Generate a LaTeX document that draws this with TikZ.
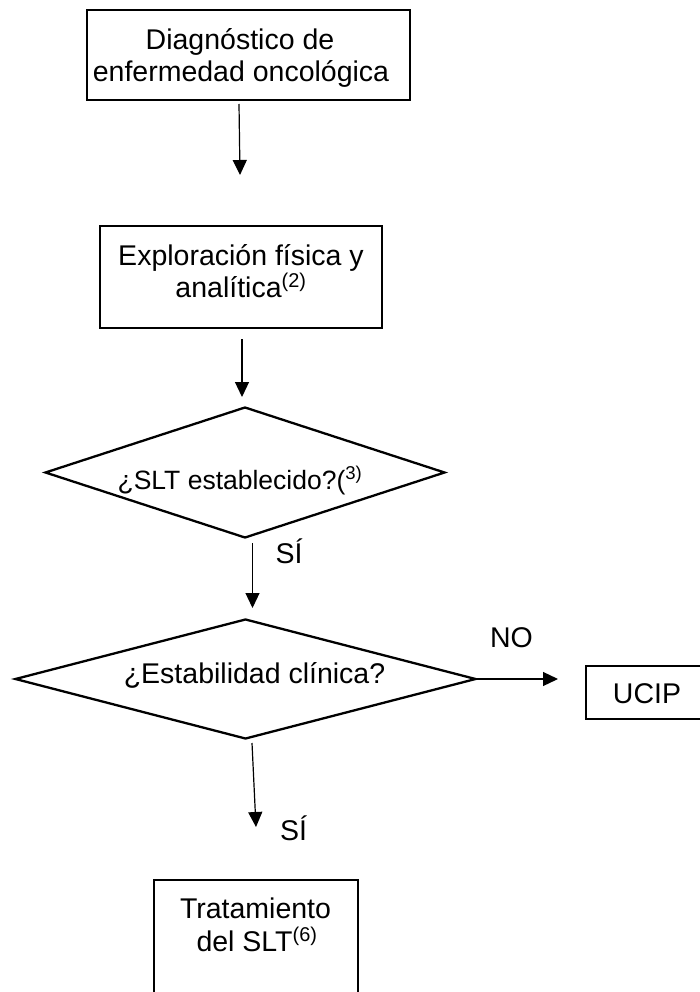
\documentclass[tikz,border=0pt]{standalone}
\usepackage{fontspec}
\setmainfont{Liberation Sans}
\usetikzlibrary{shapes.geometric,arrows.meta}
\begin{document}
\begin{tikzpicture}[x=1pt,y=-1pt,
  boxnode/.style={draw,line width=2pt,rectangle,inner sep=0pt},
  dianode/.style={draw,line width=2.3pt,diamond,inner sep=0pt},
  txt/.style={anchor=base,inner sep=0pt,font=\fontsize{28.5}{32.5}\selectfont},
  txtsmall/.style={anchor=base,inner sep=0pt,font=\fontsize{26.5}{30}\selectfont},
  arr/.style={line width=1.2pt,-{Triangle[length=15pt,width=14pt]}}]
\useasboundingbox (0,0) rectangle (699,992);
% boxes
\node[boxnode,minimum width=323pt,minimum height=90pt] (b1) at (248.5,55) {};
\node[boxnode,minimum width=282pt,minimum height=102pt] (b2) at (241,277) {};
\node[dianode,minimum width=400pt,minimum height=131pt,aspect=3.05] (d1) at (245,472.5) {};
\node[dianode,minimum width=461pt,minimum height=120pt,aspect=3.84] (d2) at (245.5,679) {};
\node[boxnode,minimum width=116pt,minimum height=53pt] (u) at (644,692.5) {};
\node[boxnode,minimum width=204pt,minimum height=115pt] (b3) at (256,937.5) {};
% texts
\node[txt] (t1a) at (240,50) {Diagnóstico de};
\node[txt] (t1b) at (241,82) {enfermedad oncológica};
\node[txt] (t2a) at (241,265) {Exploración física y};
\node[txt] (t2b) at (241,297) {analítica\textsuperscript{(2)}};
\node[txtsmall] (t3) at (240,489) {¿SLT establecido?(\textsuperscript{3)}};
\node[txt] (t4) at (254.5,683) {¿Estabilidad clínica?};
\node[txt] (tu) at (647,703) {UCIP};
\node[txt] (t5a) at (255.5,918) {Tratamiento};
\node[txt] (t5b) at (257,951) {del SLT\textsuperscript{(6)}};
\node[txt] (si1) at (289,563) {SÍ};
\node[txt] (si2) at (293.5,840) {SÍ};
\node[txt] (no) at (511.5,647) {NO};
% connectors
\coordinate (a1s) at (239,104);
\coordinate (a1e) at (240,175);
\coordinate (a2s) at (242,339);
\coordinate (a2e) at (242,397);
\coordinate (a3s) at (252.5,543);
\coordinate (a3e) at (252.5,608);
\coordinate (a4e) at (558,679);
\coordinate (a5s) at (252,743);
\coordinate (a5e) at (256,827);
\draw[arr] (a1s) -- (a1e);
\draw[arr] (a2s) -- (a2e);
\draw[arr] (a3s) -- (a3e);
\draw[arr] (d2.east) -- (a4e);
\draw[arr] (a5s) -- (a5e);
\end{tikzpicture}
\end{document}
